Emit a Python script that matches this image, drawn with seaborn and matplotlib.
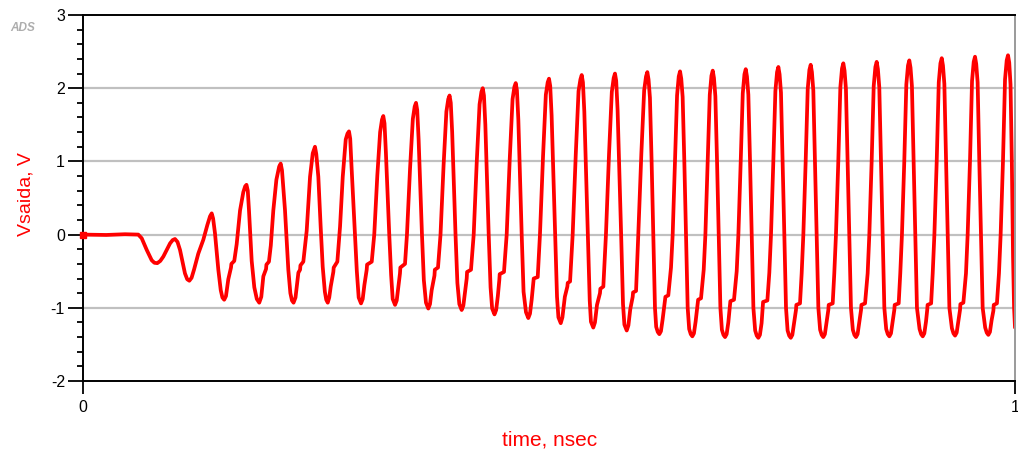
import numpy as np
import pandas as pd
import matplotlib
matplotlib.use("Agg")
import matplotlib.pyplot as plt
import seaborn as sns
from matplotlib.ticker import MultipleLocator

# Vsaida transient: time in ps, voltage in V
# one line per oscillation cycle (peak -> fall -> trough -> shoulder -> rise)
time_ps = [
    0.0, 25.0, 45.0, 59.3, 63.0, 68.4, 73.7, 76.6, 79.7, 82.9, 86.2, 93.4, 96.2,
    98.7, 101.4, 104.1, 109.4, 111.8, 114.1, 116.5, 119.1, 123.7, 129.1, 133.4, 136.3,
    138.1, 139.6, 141.6, 145.2, 147.8, 149.6, 151.5, 153.4, 155.9, 158.8, 159.2, 162.3, 164.9, 168.5, 172.0, 174.0,
    175.4, 176.8, 178.1, 181.0, 183.8, 186.5, 189.1, 191.3, 193.5, 196.4, 196.8, 199.5, 201.5, 204.2, 207.5, 210.5,
    212.1, 213.5, 216.7, 220.3, 222.5, 224.2, 225.9, 228.0, 231.1, 232.9, 233.3, 236.4, 238.0, 240.0, 243.6, 246.5,
    248.9, 250.3, 252.5, 255.0, 257.2, 259.5, 261.0, 262.6, 264.2, 265.8, 268.6, 269.0, 272.9, 275.8, 278.7, 281.9, 283.8,
    285.4, 286.7, 288.2, 291.8, 293.8, 295.8, 298.3, 300.1, 301.9, 304.4, 304.8, 309.8, 312.5, 315.8, 318.8, 320.8,
    322.2, 323.5, 325.0, 328.6, 330.6, 332.3, 334.8, 336.6, 338.4, 340.1, 340.5, 345.5, 347.6, 350.9, 353.9, 355.9,
    357.3, 358.6, 360.1, 363.7, 365.7, 368.0, 370.5, 372.3, 374.1, 377.1, 377.5, 380.9, 383.6, 386.9, 389.9, 391.9,
    393.3, 394.6, 396.1, 399.7, 401.7, 403.8, 406.3, 408.1, 409.9, 411.7, 412.1, 416.3, 419.2, 422.5, 425.5, 427.5,
    428.9, 430.2, 431.7, 435.3, 437.3, 439.0, 441.5, 443.3, 445.1, 446.7, 447.1, 451.7, 454.6, 457.9, 460.9, 462.9,
    464.3, 465.6, 467.1, 470.7, 472.7, 475.3, 477.8, 479.6, 481.4, 483.2, 483.6, 487.9, 490.3, 493.6, 496.6, 498.6,
    500.0, 501.3, 502.8, 506.6, 508.6, 510.1, 512.6, 514.4, 517.0, 519.7, 520.1, 522.6, 525.4, 528.7, 531.7, 533.7,
    535.1, 536.4, 537.9, 541.7, 543.7, 545.0, 547.5, 549.3, 551.5, 554.7, 555.1, 558.3, 561.1, 564.4, 567.4, 569.4,
    570.8, 572.1, 573.6, 577.4, 579.4, 580.9, 583.4, 585.2, 587.2, 589.8, 590.2, 593.4, 595.8, 599.1, 602.1, 604.1,
    605.5, 606.8, 608.3, 610.1, 611.9, 613.7, 615.0, 616.7, 618.4, 620.1, 621.9, 624.5, 624.9, 628.0, 630.9, 632.7, 635.2, 637.4, 639.2,
    640.6, 641.9, 643.4, 645.2, 647.0, 648.8, 650.4, 652.1, 653.8, 655.5, 657.3, 659.6, 660.0, 663.1, 666.0, 667.8, 670.3, 672.5, 674.3,
    675.7, 677.0, 678.5, 680.3, 682.1, 683.9, 685.5, 687.2, 688.9, 690.6, 692.4, 694.2, 694.6, 698.5, 701.4, 703.2, 705.7, 707.9, 709.7,
    711.1, 712.4, 713.9, 715.7, 717.5, 719.3, 721.2, 722.9, 724.6, 726.3, 728.1, 729.3, 729.7, 734.3, 736.4, 738.2, 740.7, 742.9, 744.7,
    746.1, 747.4, 748.9, 750.7, 752.5, 754.3, 756.0, 757.7, 759.4, 761.1, 762.9, 765.0, 765.4, 769.3, 771.1, 772.9, 775.4, 777.6, 779.4,
    780.8, 782.1, 783.6, 785.4, 787.2, 789.0, 790.9, 792.6, 794.3, 796.0, 797.8, 799.7, 800.1, 804.4, 806.1, 807.9, 810.4, 812.6, 814.4,
    815.8, 817.1, 818.6, 820.4, 822.2, 824.0, 826.0, 827.7, 829.4, 831.1, 832.9, 834.8, 835.2, 839.1, 841.9, 843.7, 846.2, 848.4, 850.2,
    851.6, 852.9, 854.4, 856.2, 858.0, 859.8, 861.8, 863.5, 865.2, 866.9, 868.7, 870.5, 870.9, 875.2, 876.9, 878.7, 881.2, 883.4, 885.2,
    886.6, 887.9, 889.4, 891.2, 893.0, 894.8, 897.6, 899.3, 901.0, 902.7, 904.5, 905.8, 906.2, 910.0, 911.7, 913.5, 916.0, 918.2, 920.0,
    921.4, 922.7, 924.2, 926.0, 927.8, 929.6, 932.3, 934.0, 935.7, 937.4, 939.2, 941.0, 941.4, 944.6, 947.4, 949.2, 951.7, 953.9, 955.7,
    957.1, 958.4, 959.9, 961.7, 963.5, 965.3, 968.0, 969.7, 971.4, 973.1, 974.9, 976.8, 977.2, 980.6, 982.8, 984.6, 987.1, 989.3, 991.1,
    992.5, 993.8, 995.2, 996.6, 997.9, 999.0, 1000.0,
]
vsaida = [
    0.0, -0.005, 0.005, 0.0, -0.05, -0.21, -0.35, -0.385, -0.39, -0.36, -0.30, -0.12, -0.075,
    -0.06, -0.10, -0.21, -0.53, -0.61, -0.63, -0.59, -0.48, -0.26, -0.07, 0.13, 0.25,
    0.29, 0.22, 0.02, -0.48, -0.76, -0.86, -0.89, -0.84, -0.61, -0.45, -0.40, -0.36, -0.13, 0.33, 0.58, 0.66,
    0.68, 0.60, 0.33, -0.36, -0.72, -0.88, -0.93, -0.85, -0.57, -0.47, -0.41, -0.37, -0.15, 0.33, 0.75, 0.93,
    0.97, 0.88, 0.34, -0.48, -0.80, -0.90, -0.93, -0.86, -0.52, -0.48, -0.42, -0.37, -0.18, 0.05, 0.79, 1.11,
    1.20, 1.10, 0.79, 0.11, -0.44, -0.78, -0.89, -0.93, -0.86, -0.71, -0.51, -0.45, -0.37, 0.11, 0.79, 1.30, 1.38,
    1.41, 1.31, 0.91, 0.0, -0.50, -0.86, -0.94, -0.88, -0.69, -0.48, -0.41, -0.37, 0.0, 0.81, 1.40, 1.57,
    1.62, 1.52, 1.12, 0.0, -0.55, -0.88, -0.96, -0.90, -0.71, -0.53, -0.45, -0.40, 0.0, 0.90, 1.58, 1.75,
    1.80, 1.70, 1.30, 0.0, -0.62, -0.93, -1.01, -0.95, -0.76, -0.56, -0.48, -0.45, 0.0, 0.95, 1.68, 1.85,
    1.90, 1.80, 1.40, 0.0, -0.66, -0.95, -1.03, -0.97, -0.78, -0.60, -0.51, -0.48, 0.0, 1.00, 1.78, 1.95,
    2.00, 1.90, 1.50, 0.0, -0.72, -1.01, -1.09, -1.03, -0.84, -0.62, -0.54, -0.51, 0.0, 1.04, 1.85, 2.02,
    2.07, 1.97, 1.57, 0.0, -0.78, -1.06, -1.14, -1.08, -0.89, -0.66, -0.60, -0.58, 0.0, 1.07, 1.91, 2.08,
    2.13, 2.03, 1.63, 0.0, -0.85, -1.13, -1.21, -1.13, -0.85, -0.71, -0.66, -0.64, 0.0, 1.09, 1.96, 2.12,
    2.18, 2.08, 1.68, 0.0, -0.90, -1.19, -1.27, -1.20, -0.96, -0.80, -0.74, -0.71, 0.0, 1.10, 1.95, 2.14,
    2.20, 2.10, 1.70, 0.0, -0.95, -1.23, -1.31, -1.24, -1.02, -0.85, -0.79, -0.77, 0.0, 1.11, 1.97, 2.16,
    2.22, 2.12, 1.87, 1.0, 0.0, -1.0, -1.26, -1.33, -1.36, -1.32, -1.16, -0.89, -0.85, -0.83, -0.45, 0.0, 1.0, 1.90, 2.16,
    2.23, 2.13, 1.88, 1.0, 0.0, -1.0, -1.29, -1.36, -1.39, -1.35, -1.19, -0.94, -0.89, -0.87, -0.48, 0.0, 1.0, 1.91, 2.17,
    2.24, 2.14, 1.89, 1.0, 0.0, -1.0, -1.30, -1.37, -1.40, -1.36, -1.20, -0.97, -0.91, -0.89, -0.50, 0.0, 1.0, 1.93, 2.19,
    2.26, 2.16, 1.91, 1.0, 0.0, -1.0, -1.31, -1.38, -1.41, -1.37, -1.21, -0.99, -0.92, -0.90, -0.52, 0.0, 1.0, 1.96, 2.22,
    2.29, 2.19, 1.94, 1.0, 0.0, -1.0, -1.31, -1.38, -1.41, -1.37, -1.21, -1.03, -0.96, -0.94, -0.53, 0.0, 1.0, 1.99, 2.25,
    2.32, 2.22, 1.97, 1.0, 0.0, -1.0, -1.30, -1.37, -1.40, -1.36, -1.20, -1.03, -0.96, -0.94, -0.53, 0.0, 1.0, 2.01, 2.27,
    2.34, 2.24, 1.99, 1.0, 0.0, -1.0, -1.30, -1.37, -1.40, -1.36, -1.20, -1.03, -0.96, -0.94, -0.53, 0.0, 1.0, 2.03, 2.29,
    2.36, 2.26, 2.01, 1.0, 0.0, -1.0, -1.29, -1.36, -1.39, -1.35, -1.19, -1.03, -0.96, -0.94, -0.53, 0.0, 1.0, 2.05, 2.31,
    2.38, 2.28, 2.03, 1.0, 0.0, -1.0, -1.29, -1.36, -1.39, -1.35, -1.19, -1.03, -0.96, -0.94, -0.53, 0.0, 1.0, 2.08, 2.34,
    2.41, 2.31, 2.06, 1.0, 0.0, -1.0, -1.28, -1.35, -1.38, -1.34, -1.18, -1.03, -0.95, -0.93, -0.53, 0.0, 1.0, 2.10, 2.36,
    2.43, 2.33, 2.08, 1.0, 0.0, -1.0, -1.27, -1.34, -1.37, -1.33, -1.17, -1.04, -0.96, -0.94, -0.53, 0.0, 1.0, 2.12, 2.38,
    2.45, 2.35, 2.05, 1.0, -0.3, -1.0, -1.27,
]

x_ticks = [0, 1]
x_tick_labels = ["0", "1"]
y_ticks = [-2, -1, 0, 1, 2, 3]
y_tick_labels = ["-2", "-1", "0", "1", "2", "3"]
grid_levels = [-1, 0, 1, 2]

df = pd.DataFrame({"time": np.array(time_ps) / 1000.0, "v": vsaida})

sns.set_style("white")
plt.rcParams["font.family"] = ["Liberation Sans", "DejaVu Sans"]
plt.rcParams["axes.unicode_minus"] = False

fig = plt.figure(figsize=(10.18, 4.55), dpi=100)
ax = fig.add_axes([83 / 1018, 1 - 381 / 455, 932 / 1018, 366 / 455])

# horizontal grid only
for g in grid_levels:
    ax.axhline(g, color="#c0c0c0", lw=1.6, zorder=0)

sns.lineplot(data=df, x="time", y="v", color="#ff0000", linewidth=2.7,
             estimator=None, sort=False, ax=ax)
# ADS draws a small square at the first sample
ax.plot(df["time"].iloc[:1], df["v"].iloc[:1], marker="s", ms=5,
        color="#ff0000", clip_on=False, zorder=5)

ax.set_xlim(0, 1)
ax.set_ylim(-2, 3)
ax.set_xticks(x_ticks)
ax.set_xticklabels(x_tick_labels)
ax.set_yticks(y_ticks)
ax.set_yticklabels(y_tick_labels)
ax.yaxis.set_minor_locator(MultipleLocator(0.2))

ax.tick_params(axis="y", which="major", direction="out", left=True, length=11,
               width=1.3, color="black", labelsize=11.5, labelcolor="black", pad=2)
ax.tick_params(axis="y", which="minor", direction="out", left=True, length=4.5,
               width=1.3, color="black")
ax.tick_params(axis="x", which="major", direction="out", bottom=True, length=9,
               width=1.3, color="black", labelsize=11.5, labelcolor="black", pad=5)

for side in ["left", "bottom", "top"]:
    ax.spines[side].set_color("black")
    ax.spines[side].set_linewidth(1.4)
ax.spines["right"].set_color("#9a9a9a")
ax.spines["right"].set_linewidth(1.4)

ax.set_xlabel("time, nsec", color="#ff0000", fontsize=15, va="center")
ax.xaxis.set_label_coords(0.501, -0.161)
ax.set_ylabel("Vsaida, V", color="#ff0000", fontsize=14, va="center")
ax.yaxis.set_label_coords(-0.061, 0.511)

fig.text(23 / 1018, 1 - 28 / 455, "ADS", color="#adadad", fontsize=8.5,
         fontweight="bold", fontstyle="italic", ha="center", va="center")

fig.savefig("out.png", dpi=100)
